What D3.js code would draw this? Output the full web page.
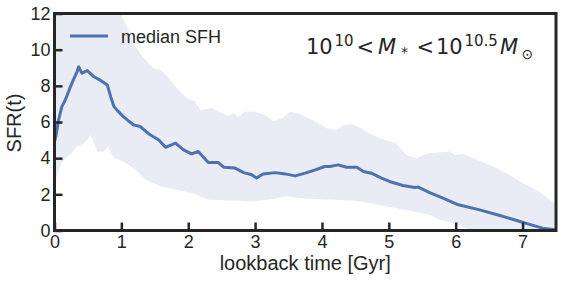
<!DOCTYPE html>
<html>
<head>
<meta charset="utf-8">
<script src="https://cdn.jsdelivr.net/npm/d3@7"></script>
<style>
  body { margin: 0; background: #fff; }
  svg { display: block; }
  .tick text { font-family: "Liberation Sans", Arial, sans-serif; font-size: 18px; fill: #262626; }
  .tick line { stroke: #262626; stroke-width: 2.5; }
</style>
</head>
<body>
<div id="chart"></div>
<script>
// median SFH (lookback time in Gyr, SFR)
const medT = [0, 0.02, 0.06, 0.11, 0.16, 0.24, 0.29, 0.34, 0.36, 0.41, 0.49, 0.59, 0.69, 0.79, 0.84, 0.89, 0.95, 1.03, 1.18, 1.28, 1.43, 1.56, 1.66, 1.81, 1.93, 2.05, 2.15, 2.30, 2.45, 2.53, 2.70, 2.83, 2.95, 3.02, 3.12, 3.30, 3.45, 3.60, 3.75, 3.90, 4.04, 4.12, 4.24, 4.37, 4.52, 4.62, 4.74, 4.89, 5.01, 5.21, 5.39, 5.44, 5.61, 5.81, 6.04, 6.36, 6.66, 6.96, 7.13, 7.30, 7.48, 7.5]
const medV = [4.9, 5.2, 6.1, 6.85, 7.2, 7.96, 8.4, 8.8, 9.06, 8.7, 8.84, 8.5, 8.3, 8.05, 7.4, 6.85, 6.6, 6.3, 5.84, 5.75, 5.29, 5.0, 4.6, 4.83, 4.46, 4.24, 4.37, 3.76, 3.76, 3.5, 3.45, 3.2, 3.08, 2.9, 3.13, 3.2, 3.13, 3.02, 3.17, 3.35, 3.54, 3.54, 3.63, 3.5, 3.5, 3.26, 3.17, 2.9, 2.71, 2.49, 2.38, 2.4, 2.1, 1.79, 1.42, 1.14, 0.83, 0.5, 0.31, 0.13, 0.04, 0.03]

// upper edge of the scatter band
const upT = [0, 0.5, 0.95, 1.0, 1.08, 1.18, 1.28, 1.38, 1.48, 1.58, 1.68, 1.83, 1.96, 2.10, 2.18, 2.35, 2.50, 2.60, 2.68, 2.75, 2.85, 3.00, 3.15, 3.27, 3.40, 3.52, 3.65, 3.80, 3.95, 4.07, 4.22, 4.32, 4.44, 4.59, 4.72, 4.87, 5.11, 5.26, 5.41, 5.56, 5.74, 5.91, 5.99, 6.11, 6.26, 6.51, 6.76, 7.00, 7.25, 7.5]
const upV = [13, 14, 12.2, 11.9, 11.3, 10.4, 9.8, 9.34, 8.97, 8.9, 8.55, 7.87, 7.37, 7.13, 6.67, 6.76, 6.49, 6.34, 6.49, 6.27, 6.57, 6.57, 6.39, 6.06, 6.21, 6.57, 6.49, 6.21, 5.93, 5.66, 5.56, 5.84, 5.9, 5.66, 5.34, 5.1, 4.83, 4.18, 4.0, 4.24, 4.31, 4.37, 4.18, 4.24, 4.0, 3.63, 3.17, 2.62, 2.15, 1.45]

// lower edge of the scatter band
const loT = [0, 0.03, 0.1, 0.16, 0.21, 0.26, 0.34, 0.44, 0.51, 0.54, 0.58, 0.64, 0.73, 0.80, 0.85, 0.91, 1.03, 1.18, 1.37, 1.58, 1.83, 2.05, 2.30, 2.70, 2.95, 3.20, 3.45, 3.70, 3.97, 4.47, 4.97, 5.26, 5.61, 5.76, 6.06, 6.21, 7.5]
const loV = [2.2, 2.9, 3.7, 4.0, 4.1, 4.28, 4.64, 4.83, 5.1, 5.29, 4.9, 4.37, 4.35, 4.64, 4.2, 4.0, 3.8, 3.45, 2.8, 2.45, 2.25, 2.07, 1.7, 1.66, 1.6, 1.7, 1.88, 1.79, 1.73, 1.66, 1.33, 1.14, 0.87, 0.59, 0.3, 0.02, 0]

const xTicks = [0, 1, 2, 3, 4, 5, 6, 7]
const yTicks = [0, 2, 4, 6, 8, 10, 12]

const width = 563
const height = 282
const ink = '#262626'
const blue = '#4c72b0'

const svg = d3.select('#chart').append('svg')
    .attr('width', width)
    .attr('height', height)

const x = d3.scaleLinear().domain([0, 7.5]).range([54.5, 556])
const y = d3.scaleLinear().domain([0, 12]).range([230.5, 13.5])

svg.append('clipPath').attr('id', 'plotclip')
    .append('rect')
    .attr('x', x(0)).attr('y', y(12))
    .attr('width', x(7.5) - x(0)).attr('height', y(0) - y(12))

const plot = svg.append('g').attr('clip-path', 'url(#plotclip)')

// band: upper edge forward, lower edge back
const bandPts = upT.map((t, i) => [t, upV[i]])
    .concat(loT.map((t, i) => [t, loV[i]]).reverse())
const lineGen = d3.line().x(d => x(d[0])).y(d => y(d[1]))

plot.append('path')
    .attr('d', lineGen(bandPts) + 'Z')
    .attr('fill', '#e9ecf4')

plot.append('path')
    .datum(medT.map((t, i) => [t, medV[i]]))
    .attr('d', lineGen)
    .attr('fill', 'none')
    .attr('stroke', blue)
    .attr('stroke-width', 3)
    .attr('stroke-linejoin', 'round')

// axes, ticks pointing inward
const gx = svg.append('g')
    .attr('transform', `translate(0,${y(0)})`)
    .call(d3.axisBottom(x).tickValues(xTicks).tickFormat(d3.format('d')).tickSize(-8).tickPadding(5))
gx.select('.domain').remove()

const gy = svg.append('g')
    .attr('transform', `translate(${x(0)},0)`)
    .call(d3.axisLeft(y).tickValues(yTicks).tickFormat(d3.format('d')).tickSize(-8).tickPadding(4))
gy.select('.domain').remove()

// frame
svg.append('rect')
    .attr('x', x(0)).attr('y', y(12))
    .attr('width', x(7.5) - x(0)).attr('height', y(0) - y(12))
    .attr('fill', 'none')
    .attr('stroke', ink)
    .attr('stroke-width', 3)

// axis labels
svg.append('text')
    .attr('x', (x(0) + x(7.5)) / 2).attr('y', 270)
    .attr('text-anchor', 'middle')
    .style('font-family', '"Liberation Sans", Arial, sans-serif')
    .style('font-size', '20px')
    .attr('fill', ink)
    .text('lookback time [Gyr]')

svg.append('text')
    .attr('transform', `translate(21,${(y(0) + y(12)) / 2 + 1}) rotate(-90)`)
    .attr('text-anchor', 'middle')
    .style('font-family', '"Liberation Sans", Arial, sans-serif')
    .style('font-size', '20px')
    .attr('fill', ink)
    .text('SFR(t)')

// legend
svg.append('line')
    .attr('x1', 70).attr('x2', 108).attr('y1', 36).attr('y2', 36)
    .attr('stroke', blue).attr('stroke-width', 3)
svg.append('text')
    .attr('x', 121).attr('y', 43)
    .style('font-family', '"Liberation Sans", Arial, sans-serif')
    .style('font-size', '18px')
    .attr('fill', ink)
    .text('median SFH')

// mass bin annotation (mathtext-like layout)
const ann = svg.append('text')
    .attr('y', 54)
    .style('font-family', '"DejaVu Sans", sans-serif')
    .style('font-size', '21px')
    .attr('fill', ink)
ann.append('tspan').attr('x', 306).text('10')
ann.append('tspan').attr('x', 334.5).attr('dy', -8).style('font-size', '15px').text('10')
ann.append('tspan').attr('x', 356.5).attr('dy', 8).text('<')
ann.append('tspan').attr('x', 378).style('font-style', 'italic').text('M')
ann.append('tspan').attr('x', 401).attr('dy', 3).style('font-size', '14px').text('*')
ann.append('tspan').attr('x', 416.5).attr('dy', -3).text('<')
ann.append('tspan').attr('x', 436).text('10')
ann.append('tspan').attr('x', 464.5).attr('dy', -8).style('font-size', '15px').text('10.5')
ann.append('tspan').attr('x', 500).attr('dy', 8).style('font-style', 'italic').text('M')
ann.append('tspan').attr('x', 521.5).attr('dy', 5).style('font-size', '14px').text('⊙')
</script>
</body>
</html>
